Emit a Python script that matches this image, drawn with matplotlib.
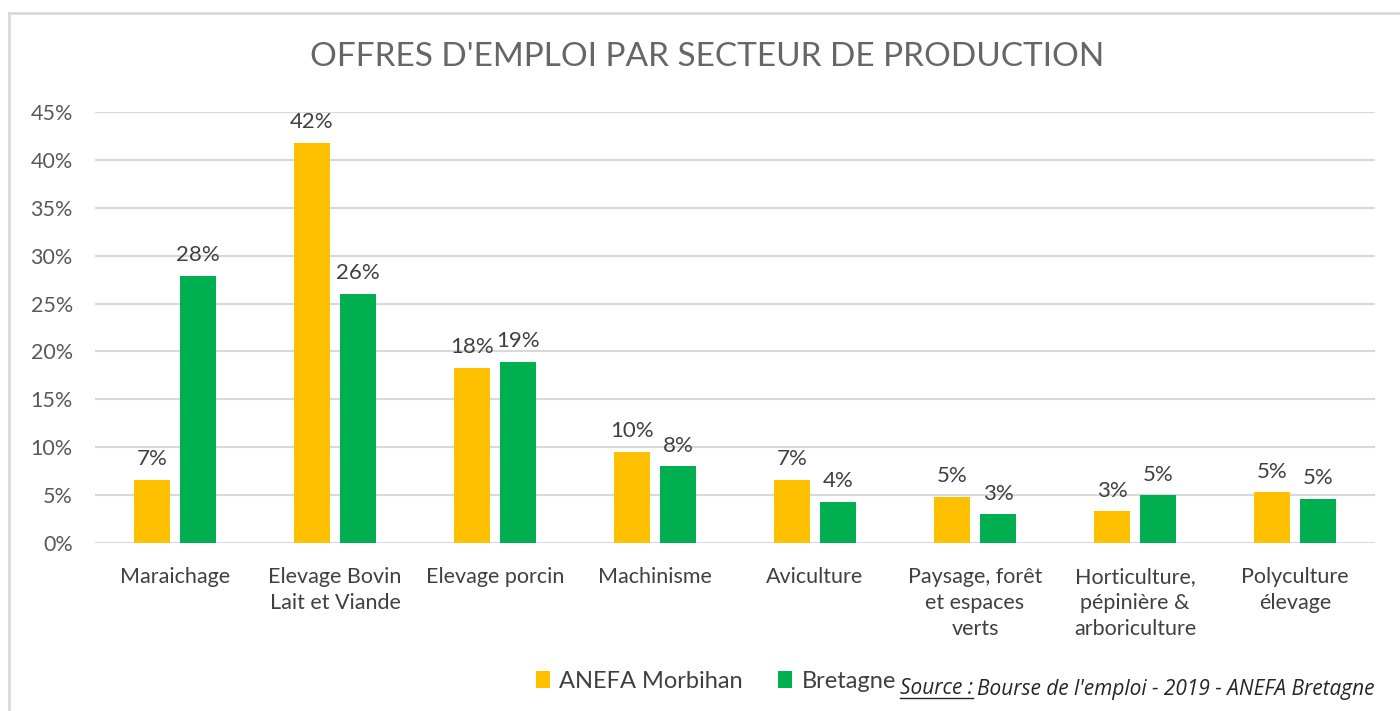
import numpy as np
import matplotlib
matplotlib.use("Agg")
import matplotlib.pyplot as plt
from matplotlib.lines import Line2D

# data
categories = ["Maraichage", "Elevage Bovin\nLait et Viande", "Elevage porcin", "Machinisme",
              "Aviculture", "Paysage, forêt\net espaces\nverts", "Horticulture,\npépinière &\narboriculture",
              "Polyculture\nélevage"]
morbihan = [0.066, 0.418, 0.183, 0.095, 0.066, 0.048, 0.033, 0.053]
bretagne = [0.279, 0.260, 0.189, 0.080, 0.043, 0.030, 0.050, 0.046]
series_names = ["ANEFA Morbihan", "Bretagne"]
yticks = np.arange(0, 0.451, 0.05)

YELLOW = "#FFC000"
GREEN = "#00B050"
GRAY = "#595959"

plt.rcParams["font.family"] = ["Lato", "DejaVu Sans"]

fig = plt.figure(figsize=(14, 7.11), dpi=100)
ax = fig.add_axes([95 / 1400, 1 - 543 / 711, 1280 / 1400, 431 / 711])

x = np.arange(len(categories))
w = 0.225
off = 0.144
b1 = ax.bar(x - off, morbihan, w, color=YELLOW, label=series_names[0], zorder=3)
b2 = ax.bar(x + off, bretagne, w, color=GREEN, label=series_names[1], zorder=3)

for bars, vals in [(b1, morbihan), (b2, bretagne)]:
    for r, v in zip(bars, vals):
        ax.text(r.get_x() + r.get_width() / 2, v + 0.011, f"{round(v * 100)}%",
                ha="center", va="bottom", fontsize=16, color="#404040")

ax.set_xlim(-0.5, len(categories) - 0.5)
ax.set_ylim(0, 0.45)
ax.set_yticks(yticks)
ax.set_yticklabels([f"{round(t * 100)}%" for t in yticks], fontsize=15.5, color=GRAY)
ax.set_xticks(x)
ax.set_xticklabels(categories, fontsize=15.5, color="#404040", linespacing=1.38, va="top")
ax.tick_params(axis="both", length=0)
ax.tick_params(axis="y", pad=16)
ax.tick_params(axis="x", pad=17)
ax.grid(axis="y", color="#D9D9D9", linewidth=1.5, zorder=0)
for s in ax.spines.values():
    s.set_visible(False)

fig.text(707 / 1400, 1 - 57 / 711, "OFFRES D'EMPLOI PAR SECTEUR DE PRODUCTION",
         ha="center", va="center", fontsize=24, color="#666666")

fig.legend(handles=[b1, b2], labels=series_names, loc="center", ncol=2,
           bbox_to_anchor=(716 / 1400, 1 - 681 / 711), frameon=False, fontsize=17,
           labelcolor="#404040", handlelength=0.6, handleheight=0.75,
           handletextpad=0.4, columnspacing=1.5)

src = fig.text(900 / 1400, 1 - 689 / 711, "Source :", ha="left", va="center",
               fontsize=15, style="italic", color="#262626", family=["Open Sans", "DejaVu Sans"])
fig.canvas.draw()
bb = src.get_window_extent()
fig.add_artist(Line2D([bb.x0 / 1400, bb.x1 / 1400], [(bb.y0 + 2) / 711] * 2,
                      color="#262626", linewidth=1))
fig.text(bb.x1 / 1400 + 4 / 1400, 1 - 689 / 711, "Bourse de l'emploi - 2019 - ANEFA Bretagne",
         ha="left", va="center", fontsize=15, style="italic", color="#262626",
         family=["Open Sans", "DejaVu Sans"])

# chart frame
fig.add_artist(Line2D([9 / 1400, 9 / 1400], [0, 1 - 13 / 711], color="#D9D9D9", linewidth=2))
fig.add_artist(Line2D([9 / 1400, 1], [1 - 13 / 711] * 2, color="#D9D9D9", linewidth=2))

fig.savefig("out.png", dpi=100)
